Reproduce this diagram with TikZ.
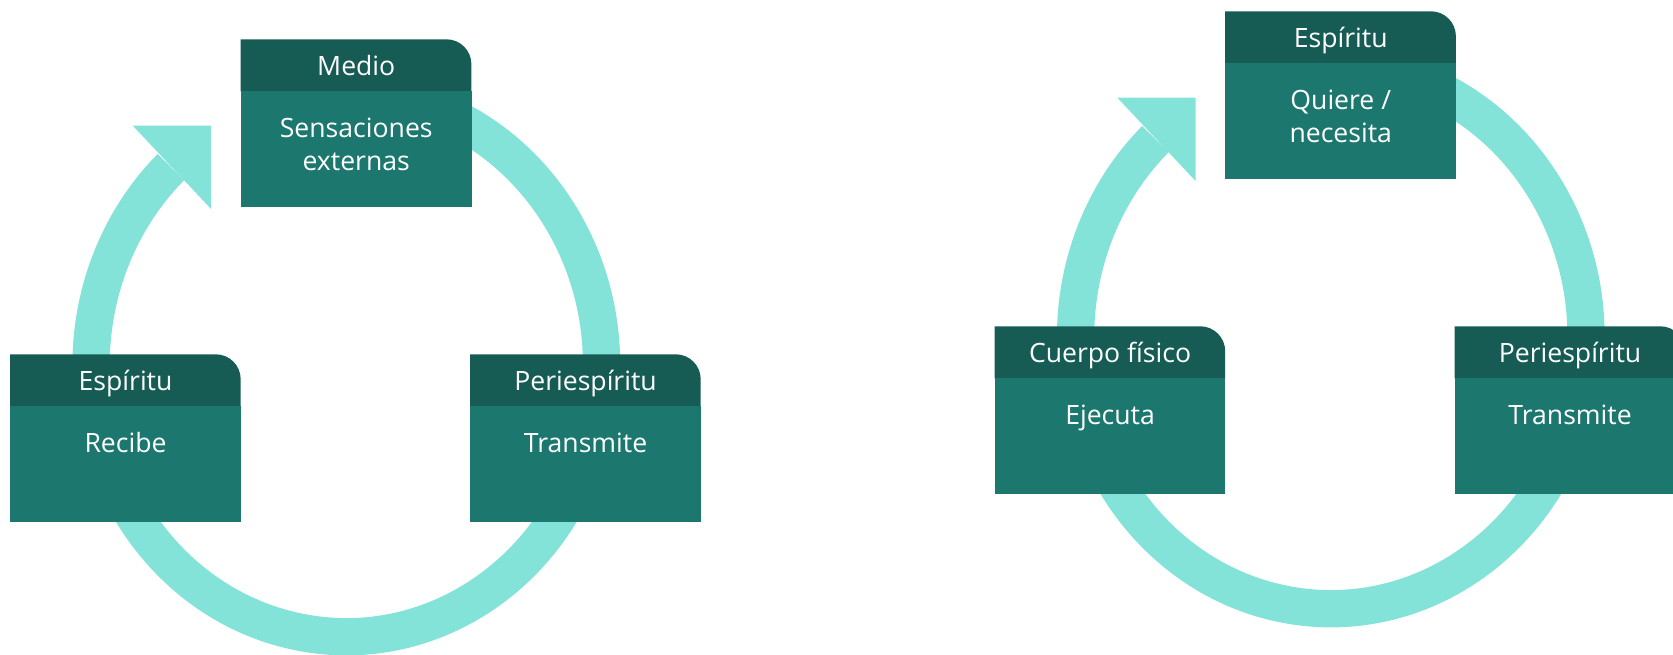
\documentclass[tikz,border=0pt]{standalone}
\usepackage{fontspec}
\setmainfont{Open Sans}

\definecolor{ringc}{HTML}{84E3D9}
\definecolor{headc}{HTML}{165C55}
\definecolor{bodyc}{HTML}{1C786F}

\tikzset{
  ring/.style={draw=ringc, line width=37.3pt},
  arrowhd/.style={fill=ringc},
  headfill/.style={fill=headc},
  bodybox/.style={fill=bodyc, inner sep=0pt, minimum width=230.7pt, minimum height=116pt, anchor=north west},
  title/.style={text=white, font=\fontsize{26.6}{33}\selectfont, anchor=base, inner sep=0pt},
  caption/.style={text=white, font=\fontsize{26.6}{33}\selectfont, anchor=north, inner sep=0pt, align=center},
}

% #1 name, #2/#3 top left corner, #4 title, #5 text
\newcommand\cardbox[5]{%
  \fill[headfill] (#2,#3-52) -- (#2,#3) -- (#2+205.7,#3) arc[start angle=90,end angle=0,radius=25] -- (#2+230.7,#3-52) -- cycle;
  \node[bodybox] (#1) at (#2,#3-52) {};
  \node[title] (#1-h) at ([yshift=16pt]#1.north) {#4};
  \node[caption] (#1-t) at (#1.north) {\rule{0pt}{46pt}#5};
}

\begin{document}
\begin{tikzpicture}[x=1pt,y=1pt]
  \useasboundingbox (0,0) rectangle (1673,655);
  \clip (0,0) rectangle (1673,655);

  % left cycle
  \coordinate (cL) at (346.3,290.3);
  \draw[ring] ([shift={(80:255.2 and 272)}]cL) arc[start angle=80, end angle=-226.6, x radius=255.2, y radius=272] coordinate (endL);
  \fill[arrowhd] (endL) ++(-38.2,41.4) -- ++(78.3,0) -- ++(0,-83.3) -- cycle;

  \cardbox{medio}{240.7}{615.7}{Medio}{Sensaciones\\externas}
  \cardbox{espL}{10}{300.7}{Espíritu}{Recibe}
  \cardbox{periL}{470}{300.7}{Periespíritu}{Transmite}

  % right cycle
  \begin{scope}[shift={(984.5,28)}]
    \coordinate (cR) at (346.3,290.3);
    \draw[ring] ([shift={(80:255.2 and 272)}]cR) arc[start angle=80, end angle=-226.6, x radius=255.2, y radius=272] coordinate (endR);
    \fill[arrowhd] (endR) ++(-38.2,41.4) -- ++(78.3,0) -- ++(0,-83.3) -- cycle;

    \cardbox{espR}{240.7}{615.7}{Espíritu}{Quiere /\\necesita}
    \cardbox{cuerpo}{10}{300.7}{Cuerpo físico}{Ejecuta}
    \cardbox{periR}{470}{300.7}{Periespíritu}{Transmite}
  \end{scope}
\end{tikzpicture}
\end{document}
